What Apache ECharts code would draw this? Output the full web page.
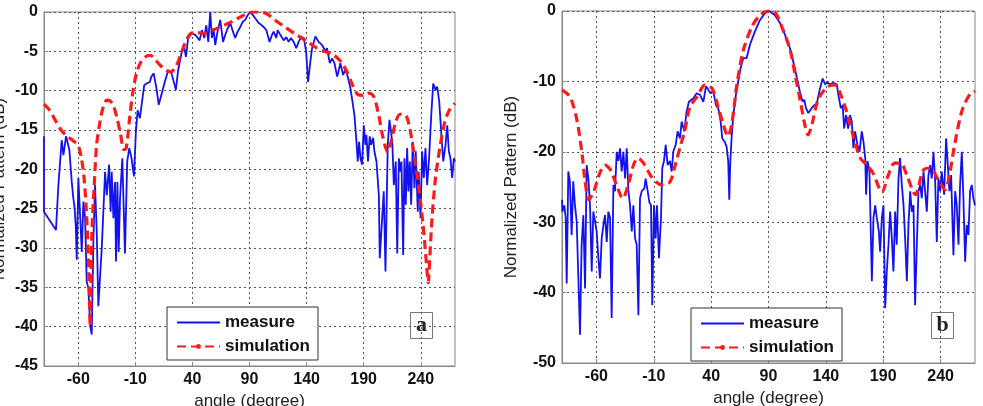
<!DOCTYPE html>
<html>
<head>
<meta charset="utf-8">
<script src="https://cdn.jsdelivr.net/npm/echarts@6/dist/echarts.min.js"></script>
<style>
  html, body { margin: 0; padding: 0; background: #fff; }
  #chart-container { width: 983px; height: 406px; }
</style>
</head>
<body>
<div id="chart-container"></div>
<script>
// tick positions shared by both panels
const xTicks = [-60, -10, 40, 90, 140, 190, 240];

// panel a: [angle, dB]
const measureA = [
  [-90, -15.8], [-90, -25.4], [-79.5, -27.7], [-77.4, -22], [-74.5, -16.3], [-73, -18.2],
  [-70.7, -15.8], [-67.8, -17.5], [-65.7, -21.6], [-64.3, -23.7], [-63.4, -24.6], [-62.2, -27.1],
  [-61.3, -31.5], [-59.9, -21.1], [-58.4, -21.1], [-56.9, -30.5], [-55.5, -24.1], [-54, -26.2],
  [-52.6, -34.3], [-51.1, -35.1], [-49.6, -39.8], [-48.2, -41], [-46.7, -28.8], [-45.3, -22],
  [-43.8, -27.9], [-42.4, -37.4], [-39.4, -30], [-36.5, -20.3], [-35, -23.3], [-33, -19.4],
  [-31.6, -25.4], [-30.7, -20.3], [-29.2, -26.2], [-27.8, -21.6], [-26.9, -31.7], [-25.7, -21.6],
  [-24.6, -30.5], [-23.4, -23.7], [-21.4, -18.6], [-19.1, -30.7], [-17.1, -19], [-15.3, -17.3],
  [-13.3, -18.6], [-11.2, -20.9], [-9.5, -15.2], [-8, -12.5], [-6, -13.5], [-4.5, -11.8],
  [-2.2, -9.3], [-0.2, -9.1], [2.7, -8.9], [4.1, -8.2], [6.1, -7.8], [8.5, -9.7],
  [10.5, -11.8], [12.9, -10.5], [15.8, -8.9], [18.8, -7.4], [21.7, -7.8], [25.5, -9.9],
  [27.5, -7.4], [30.5, -5.2], [32.5, -4.2], [34.3, -5.7], [36.3, -3.3], [39.2, -2.7],
  [42.5, -2.9], [44, -2.7], [46.3, -3.6], [48.3, -2.3], [50.4, -3.3], [52.1, -1.7],
  [53.9, -3.8], [55.6, 0], [57.1, -3.3], [58.5, -2.1], [60, -4.2], [62, -2.5],
  [64.4, -1], [66.8, -3.8], [68.8, -2.9], [70.8, -2.1], [73.2, -1.4], [75.5, -2.5],
  [77.5, -3.3], [79.6, -2.5], [81.9, -1.9], [84.3, -1.2], [86.3, -1], [88.4, -0.4],
  [90.7, 0], [93, -0.4], [95, -0.8], [98, -1.4], [100, -1.6], [102.4, -1.9],
  [104.7, -2.3], [105.9, -2.5], [107.6, -3.8], [109.7, -2.9], [111.1, -2.5], [113.5, -3.3],
  [114.7, -2.3], [117, -2.9], [118.5, -2.7], [119.9, -3.6], [122.2, -3.2], [124.3, -3.8],
  [126.3, -3.3], [128.7, -3.8], [131, -4.6], [133, -3.8], [135.2, -3.2], [137.5, -3.3],
  [139.6, -5], [141.3, -8.9], [143.3, -6.3], [144.8, -4.6], [147.7, -3.1], [150.6, -3.8],
  [153.6, -4.2], [156.5, -5], [157.9, -4.6], [160.3, -6.5], [162.4, -5.9], [164.4, -6.5],
  [166.8, -8.2], [167.9, -7.6], [169.6, -6.5], [172, -8], [174, -7.3], [176, -8.2],
  [178.4, -9.7], [180.2, -11.4], [181.9, -13.1], [183.7, -16.5], [184.8, -19], [186, -16.5],
  [187.2, -18.6], [188.6, -19.4], [190.1, -14.4], [191.5, -16.9], [192.4, -15.6], [193.8, -19],
  [195.3, -15.8], [196.5, -16.9], [198.3, -16], [199.4, -17.7], [201.2, -19], [203.3, -23.3],
  [204.1, -31.3], [206.2, -26.2], [207.6, -22.8], [209.1, -33], [211.1, -16.9], [212.6, -13.7],
  [214, -15.2], [215.2, -16.9], [216.4, -22], [218.1, -19], [219.4, -30.7], [220.8, -18.6],
  [222.2, -20.3], [223.1, -19], [224.6, -30.9], [225.7, -18.6], [226.9, -24.5], [228.1, -17.3],
  [229.2, -22.8], [230.4, -19], [231.6, -24.5], [233, -16.5], [234.5, -22.4], [235.6, -17.7],
  [237.4, -25.4], [238.2, -20.3], [239.8, -26.2], [241.2, -17.7], [242.7, -21.1], [244.1, -17.3],
  [245.6, -22], [247.3, -18.6], [249.2, -13.1], [250.9, -9.1], [253, -9.9], [254.4, -9.5],
  [256.2, -11.4], [257.9, -15.2], [259.7, -19], [261.7, -16.9], [263.2, -14.4], [264.6, -17.7],
  [266, -18.6], [267.5, -21.1], [269, -18.6], [270, -19]
];
const simulationA = [
  [-90, -11.7], [-85, -12.5], [-80, -13.8], [-75, -15], [-70, -15.8], [-65, -16.3],
  [-60, -17], [-57, -18.8], [-55, -21], [-53, -25], [-51, -32], [-50, -38],
  [-49.5, -40], [-49, -36], [-48, -28], [-46, -22], [-44, -17], [-41, -14],
  [-38, -12], [-35, -11.2], [-32, -11.3], [-29, -12], [-26, -13.5], [-23, -15.5],
  [-20, -17.5], [-18, -17.3], [-15, -13.5], [-12, -10], [-9, -7.8], [-5, -6.3],
  [0, -5.6], [3, -5.5], [7, -6], [12, -6.8], [17, -7.4], [21, -7.6],
  [26, -6.8], [30, -5.3], [34, -3.8], [38, -2.8], [42, -2.6], [50, -2.7],
  [58, -2.3], [66, -1.8], [75, -1.2], [85, -0.4], [92, 0], [100, 0],
  [106, -0.3], [112, -1], [120, -1.8], [130, -2.8], [140, -3.7], [148, -4.5],
  [155, -5], [163, -5.4], [170, -6.3], [175, -7.5], [180, -9.2], [185, -10.5],
  [190, -10.6], [195, -10.3], [199, -10.8], [203, -13], [207, -16], [211, -17.8],
  [214, -16.5], [218, -14], [222, -13], [226, -13], [230, -14.5], [234, -18],
  [238, -22], [242, -27], [245, -32], [246.5, -34.4], [248, -31], [250, -26],
  [253, -21], [257, -17], [261, -14], [265, -12.5], [270, -11.6]
];

// panel b: [angle, dB]
const measureB = [
  [-90, -26.8], [-89.7, -28.5], [-88, -27.6], [-86.8, -29.4], [-85.9, -38.7], [-84.5, -22.8],
  [-83.1, -24.2], [-81.6, -31.8], [-80.2, -24.2], [-78.7, -27.6], [-77.2, -29.9], [-75.2, -40.8],
  [-74.3, -46], [-72.9, -33.2], [-71.4, -29], [-69.9, -39.4], [-68.5, -21.9], [-67, -23.8],
  [-65.6, -27.6], [-64.1, -37], [-62.7, -28.5], [-61.2, -29.9], [-59.8, -31.3], [-58.3, -35.1],
  [-56.9, -38], [-55.4, -32.3], [-53.9, -30.4], [-52.5, -29], [-51, -32.8], [-49.6, -28.5],
  [-48.1, -29.4], [-46.7, -43.6], [-45.2, -24.7], [-43.8, -25.6], [-42.3, -20], [-40.9, -21.3],
  [-39.4, -19.5], [-38, -22.8], [-36.5, -20], [-35, -23.8], [-33.6, -19.5], [-32.1, -25.6],
  [-30.7, -27.6], [-29.2, -31.3], [-27.8, -27.6], [-26.3, -32.3], [-24.9, -33.2], [-23.4, -43.2],
  [-22, -26.6], [-20.5, -25.6], [-18.2, -25.2], [-17.1, -23.8], [-15.3, -25.6], [-13.9, -27.1],
  [-12.4, -27.6], [-11.3, -41.8], [-9.8, -27.6], [-8.4, -32.3], [-7.2, -27.6], [-5.5, -35.1],
  [-3.7, -29.4], [-2.6, -22.3], [-1.1, -21.3], [0.4, -19], [2.1, -21.9], [4.1, -21.3],
  [5.6, -22.8], [7, -20], [9.1, -19], [10.8, -17.1], [12.8, -18.1], [14.3, -15.7],
  [16.6, -17.1], [18.6, -14.3], [20.6, -12.9], [24.5, -12.4], [27.4, -11.7], [30.3, -11.9],
  [33.2, -12.9], [35.5, -10.7], [37.5, -11.2], [39.6, -11.7], [41.9, -11.4], [44.2, -13.4],
  [46.2, -13.8], [48.3, -15.7], [49.7, -18.1], [52, -18.6], [53.5, -19.3], [54.9, -21.4],
  [55.8, -26.8], [56.7, -21.4], [57.8, -18.1], [59.3, -14.8], [61.6, -11.9], [63.6, -10],
  [65.7, -8.1], [68, -6.7], [70.9, -6.7], [73.8, -4.8], [78.2, -2.9], [82.5, -1.3],
  [86.9, -0.3], [90.7, 0], [95.6, -0.6], [100, -1.7], [104.4, -3.4], [108.7, -5.3],
  [111.6, -7.2], [114.5, -9.3], [117.4, -11.5], [119.8, -12.9], [121.2, -12.6], [122.7, -13.8],
  [124.7, -14.5], [127.6, -13.8], [129.7, -13.4], [132, -13.2], [134.9, -11], [137.2, -9.6],
  [139.3, -10.4], [141.3, -10.2], [143.7, -10.4], [146.6, -10.2], [149.5, -10.4], [150.9, -11.9],
  [153, -13.8], [154.7, -13.4], [155.9, -16.7], [157.6, -14.8], [159.4, -16.7], [161.1, -14.8],
  [162.6, -15.7], [164, -19.5], [165.5, -17.1], [167.5, -19], [169.3, -20], [171.3, -17.1],
  [172.8, -18.6], [174.3, -20.9], [175.1, -26.1], [176.3, -21.3], [178, -22.8], [180.1, -38.4],
  [181.5, -29.4], [183, -27.6], [184.4, -29.4], [186.2, -31.3], [187.3, -34.2], [188.8, -29.4],
  [190.2, -27.6], [191.7, -42.2], [193.1, -37], [194.6, -33.2], [196, -28.5], [197.5, -32.3],
  [198.9, -37], [200.4, -28.5], [201.8, -33.2], [203.3, -23.8], [204.7, -20.9], [206.2, -24.7],
  [207.7, -27.6], [209.1, -32.3], [210.6, -38.4], [212, -30.4], [213.5, -25.6], [214.9, -28.5],
  [216.4, -27.6], [217.8, -41.8], [219.3, -33.2], [220.7, -25.6], [222.2, -24.7], [223.6, -26.6],
  [225.1, -22.8], [226.5, -25.6], [228, -28.5], [229.4, -23.3], [230.9, -21.9], [232.3, -23.8],
  [233.8, -20], [235.2, -23.8], [236.7, -32.8], [238.1, -23.8], [239.6, -25.6], [241, -22.8],
  [243.1, -26.1], [244.8, -18.1], [246.3, -21.9], [247.7, -25.6], [249.2, -23.3], [251.2, -34.7],
  [252.7, -25.6], [254.1, -27.6], [255.6, -33.2], [257, -24.7], [258.5, -20], [259.9, -26.6],
  [261.4, -35.6], [262.8, -30.4], [264.3, -31.8], [265.7, -25.6], [267.2, -24.7], [268.6, -26.6],
  [270, -27.6]
];
const simulationB = [
  [-90, -11.2], [-83, -12.2], [-77, -15.5], [-72.6, -20.2], [-70, -24], [-66.5, -26.8],
  [-62, -25.5], [-57, -23], [-52.5, -21.9], [-48, -22.5], [-43, -24.5], [-37, -26.6],
  [-32, -24.5], [-27.5, -21.8], [-23.7, -20.9], [-19, -21.6], [-13, -23.3], [-8, -24.3],
  [-3, -24.7], [4, -24.3], [8.5, -22], [13, -19.3], [17, -17], [21.6, -13.6],
  [27.7, -12.2], [34.7, -10.5], [40.8, -11], [46, -13.6], [50.4, -16], [54.7, -17.8],
  [58, -16], [62.6, -10.3], [68, -5.6], [75.6, -2.2], [82, -0.7], [89.6, 0],
  [95.7, -0.2], [102.7, -2.7], [108.8, -5.5], [113, -8.9], [117.5, -12.6], [122, -16.4],
  [124.5, -17.6], [128, -16], [133, -12.7], [141, -10.8], [148, -10.5], [152.5, -11.7],
  [158.5, -14.5], [164, -17.8], [170, -20.9], [176, -21.9], [181, -23], [189, -25.7],
  [194, -23.5], [200, -21.6], [205, -21.6], [211, -23.5], [218, -26.1], [225, -22.6],
  [231, -22.3], [238, -24], [244, -25.4], [248, -23], [253, -18.3], [259, -14],
  [266, -11.7], [270, -11.4]
];

const fontSans = '"Liberation Sans", Arial, sans-serif';
const blue = '#1212ee';
const red = '#ff1a1a';

function makeXAxis(gridIndex) {
  return {
    type: 'value',
    gridIndex: gridIndex,
    min: -90,
    max: 270,
    name: 'angle (degree)',
    nameLocation: 'middle',
    nameGap: 24,
    nameTextStyle: { fontFamily: fontSans, fontSize: 17, color: '#222' },
    axisLine: { onZero: false, lineStyle: { color: '#888' } },
    axisTick: { inside: true, length: 4, customValues: xTicks, lineStyle: { color: '#888' } },
    axisLabel: {
      customValues: xTicks,
      margin: 6,
      fontFamily: fontSans,
      fontSize: 16,
      fontWeight: 'bold',
      color: '#111'
    },
    splitLine: { show: true, lineStyle: { type: [2, 3], color: '#555' } }
  };
}

function makeYAxis(gridIndex, min, interval, gap) {
  return {
    type: 'value',
    gridIndex: gridIndex,
    min: min,
    max: 0,
    interval: interval,
    name: 'Normalized Pattern (dB)',
    nameLocation: 'middle',
    nameGap: gap,
    nameTextStyle: { fontFamily: fontSans, fontSize: 17, color: '#222' },
    axisLine: { show: true, onZero: false, lineStyle: { color: '#888' } },
    axisTick: { inside: true, length: 4, lineStyle: { color: '#888' } },
    axisLabel: {
      margin: 6,
      fontFamily: fontSans,
      fontSize: 16,
      fontWeight: 'bold',
      color: '#111'
    },
    splitLine: { show: true, lineStyle: { type: [2, 3], color: '#555' } }
  };
}

function makeLegend(left, top) {
  return {
    left: left,
    top: top,
    orient: 'vertical',
    data: [
      { name: 'measure', itemStyle: { opacity: 0 } },
      { name: 'simulation' }
    ],
    backgroundColor: '#fff',
    borderColor: '#333',
    borderWidth: 1,
    padding: [7, 8, 5, 9],
    itemWidth: 43,
    itemHeight: 6,
    itemGap: 7,
    selectedMode: false,
    textStyle: { fontFamily: fontSans, fontSize: 17, fontWeight: 'bold', color: '#111' }
  };
}

function tagBox(x, y, letter) {
  return {
    type: 'group',
    left: x,
    top: y,
    children: [
      { type: 'rect', shape: { x: 0, y: 0, width: 22, height: 26 },
        style: { fill: '#fff', stroke: '#777', lineWidth: 1 } },
      { type: 'text', x: 11, y: 13,
        style: { text: letter, fill: '#222', align: 'center', verticalAlign: 'middle',
                 font: 'bold 22px "Liberation Serif", "Times New Roman", serif' } }
    ]
  };
}

function lineSeries(name, idx, data) {
  const isSim = name === 'simulation';
  return {
    name: name,
    type: 'line',
    xAxisIndex: idx,
    yAxisIndex: idx,
    data: data,
    symbol: isSim ? 'circle' : 'none',
    symbolSize: 5,
    showSymbol: false,
    smooth: isSim ? 0.3 : false,
    animation: false,
    z: isSim ? 3 : 2,
    itemStyle: { color: isSim ? red : blue },
    lineStyle: isSim
      ? { color: red, width: 3.2, type: [9, 5] }
      : { color: blue, width: 1.8 }
  };
}

let dom = document.getElementById('chart-container');
let myChart = echarts.init(dom, null, { renderer: 'canvas' });
let option = {
  backgroundColor: '#fff',
  animation: false,
  grid: [
    { left: 44, right: 528, top: 12, bottom: 40, show: true, borderColor: '#888', borderWidth: 1,
      containLabel: false, outerBoundsMode: 'none' },
    { left: 562, right: 8, top: 11, bottom: 43, show: true, borderColor: '#888', borderWidth: 1,
      containLabel: false, outerBoundsMode: 'none' }
  ],
  xAxis: [makeXAxis(0), makeXAxis(1)],
  yAxis: [makeYAxis(0, -45, 5, 36), makeYAxis(1, -50, 10, 42)],
  legend: [makeLegend(167, 307), makeLegend(691, 308)],
  graphic: [tagBox(410, 312, 'a'), tagBox(931, 312, 'b')],
  series: [
    lineSeries('measure', 0, measureA),
    lineSeries('simulation', 0, simulationA),
    lineSeries('measure', 1, measureB),
    lineSeries('simulation', 1, simulationB)
  ]
};
myChart.setOption(option);
window.addEventListener('resize', myChart.resize);
</script>
</body>
</html>
